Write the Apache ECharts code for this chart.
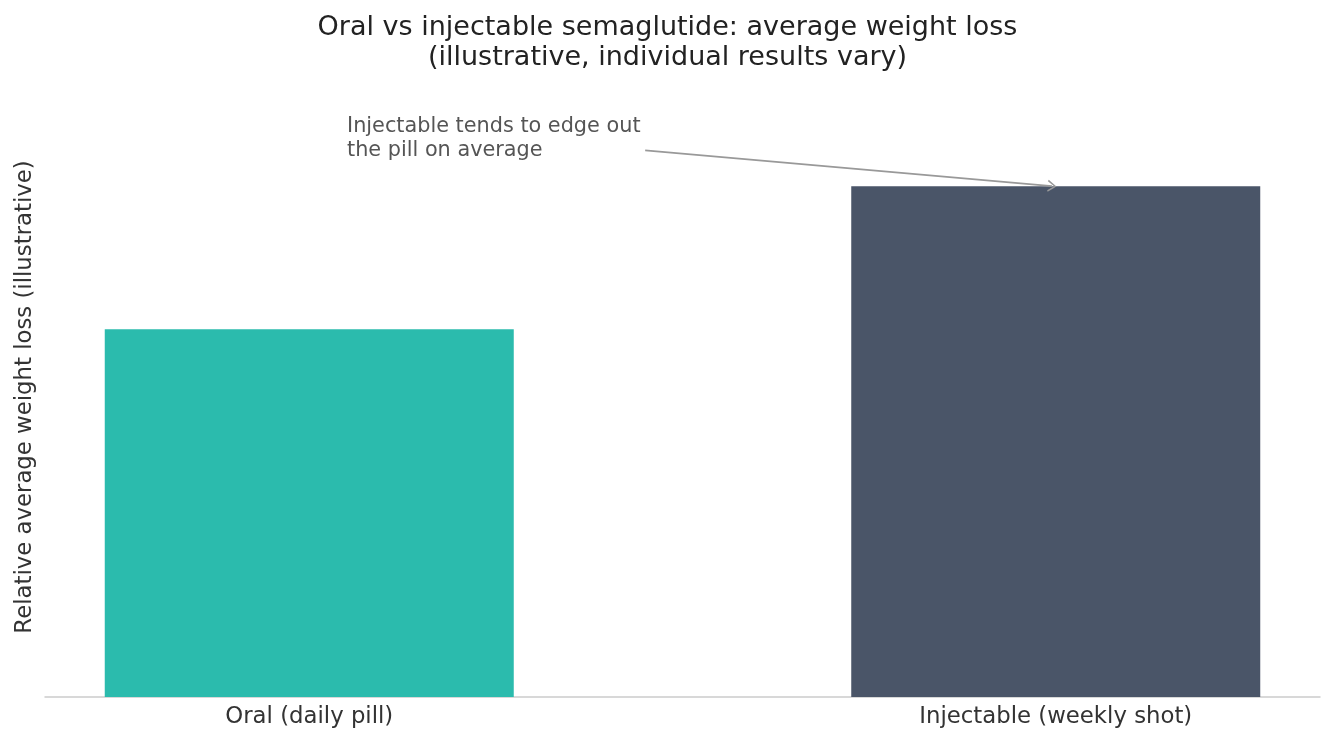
<!DOCTYPE html>
<html>
<head>
<meta charset="utf-8">
<script src="https://cdn.jsdelivr.net/npm/echarts@6/dist/echarts.min.js"></script>
<style>
  html, body { margin: 0; padding: 0; background: #fff; }
  #chart { width: 1335px; height: 743px; }
</style>
</head>
<body>
<div id="chart"></div>
<script>
// data
const categories = ['Oral (daily pill)', 'Injectable (weekly shot)'];
const values = [0.72, 1.0];
const barColors = ['#2bbbad', '#4a5568'];
// annotation: arrow start in data units, arrow ends on injectable bar top
const noteText = 'Injectable tends to edge out\nthe pill on average';
const arrowFrom = [0.45, 1.07];
const arrowTo = [0.995, 1.0];

const font = 'DejaVu Sans';
const chart = echarts.init(document.getElementById('chart'));

// open "->" style head, drawn as a thin filled chevron
const chevron = 'path://M0,10 L5,0 L10,10 L8.8,10.8 L5,3 L1.2,10.8 Z';

chart.setOption({
  backgroundColor: '#ffffff',
  animation: false,
  title: {
    text: 'Oral vs injectable semaglutide: average weight loss\n(illustrative, individual results vary)',
    left: 'center',
    top: 8,
    textStyle: {
      fontFamily: font,
      fontSize: 27,
      fontWeight: 'normal',
      color: '#222',
      lineHeight: 30
    }
  },
  grid: { left: 45, right: 15, top: 84, bottom: 46, outerBoundsMode: 'none', containLabel: false },
  xAxis: {
    type: 'value',
    min: -0.354,
    max: 1.354,
    splitLine: { show: false },
    axisLine: { show: true, onZero: false, lineStyle: { color: '#cccccc', width: 1.5 } },
    axisTick: { show: false },
    axisLabel: {
      customValues: [0, 1],
      formatter: v => categories[Math.round(v)],
      fontFamily: font,
      fontSize: 22.8,
      color: '#333',
      margin: 9
    }
  },
  yAxis: {
    type: 'value',
    min: 0,
    max: 1.2,
    name: 'Relative average weight loss (illustrative)',
    nameLocation: 'middle',
    nameGap: 8,
    nameTextStyle: { fontFamily: font, fontSize: 22.8, color: '#333', padding: [0, 13, 0, 0] },
    axisLine: { show: false },
    axisTick: { show: false },
    axisLabel: { show: false },
    splitLine: { show: false }
  },
  series: [{
    type: 'bar',
    barWidth: 409,
    data: values.map((v, i) => ({ value: [i, v], itemStyle: { color: barColors[i] } })),
    markLine: {
      silent: true,
      symbol: ['none', chevron],
      symbolSize: [12, 9],
      lineStyle: { color: '#999999', width: 1.6, type: 'solid' },
      label: { show: false },
      data: [[{ coord: arrowFrom }, { coord: arrowTo }]]
    }
  }],
  graphic: [{
    type: 'text',
    left: 347,
    top: 115,
    style: {
      text: noteText,
      fontFamily: font,
      fontSize: 20.8,
      lineHeight: 24,
      fill: '#555555'
    }
  }]
});
</script>
</body>
</html>
